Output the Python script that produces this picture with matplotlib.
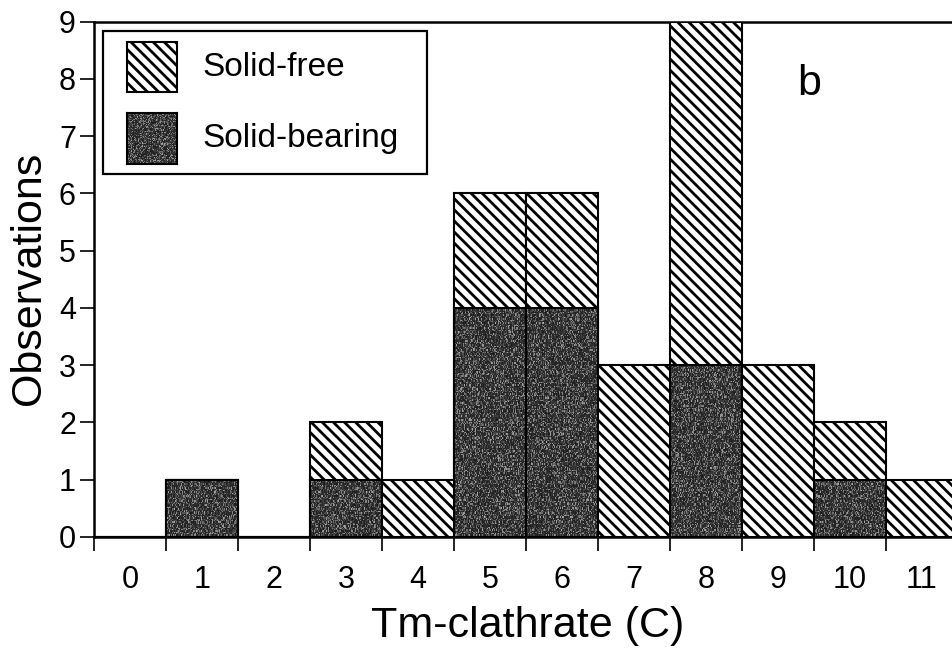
import numpy as np
import matplotlib
matplotlib.use("Agg")
import matplotlib.pyplot as plt
from matplotlib.patches import Rectangle

plt.rcParams['font.family'] = ['Liberation Sans', 'DejaVu Sans']
plt.rcParams['hatch.linewidth'] = 2.0
plt.rcParams['hatch.color'] = 'black'

# Tm-clathrate bins (C) and observation counts
categories = [0, 1, 2, 3, 4, 5, 6, 7, 8, 9, 10, 11]
solid_bearing = [0, 1, 0, 1, 0, 4, 4, 0, 3, 0, 1, 0]
solid_free = [0, 0, 0, 1, 1, 2, 2, 3, 6, 3, 1, 1]
y_ticks = [0, 1, 2, 3, 4, 5, 6, 7, 8, 9]

W, H = 953, 651
fig = plt.figure(figsize=(W / 100, H / 100), dpi=100)

def fx(px):
    return px / W

def fy(py):
    return 1 - py / H

ax = fig.add_axes([fx(94), 114 / H, 864 / W, 515.5 / H])
ax.set_xlim(-0.5, 11.5)
ax.set_ylim(0, 9)

edge_lw = 1.5
free_style = dict(facecolor='white', edgecolor='black', hatch='\\\\\\', linewidth=edge_lw)
bearing_style = dict(facecolor='#333333', edgecolor='black', linewidth=edge_lw)

# grainy dark fill for the solid-bearing bars
rng = np.random.default_rng(7)
grain = rng.random((400, 900))
grain = 0.10 + 0.50 * grain ** 3 + 0.08 * rng.random((400, 900))

x = np.array(categories, dtype=float)
bb = ax.bar(x, solid_bearing, width=1.0, zorder=2, **bearing_style)
for rect, v in zip(bb, solid_bearing):
    if v > 0:
        im = ax.imshow(grain, cmap='gray', vmin=0, vmax=1, extent=(-0.5, 11.5, 0, 9),
                       aspect='auto', interpolation='nearest', zorder=2.5)
        im.set_clip_path(rect)
        outline = Rectangle(rect.get_xy(), rect.get_width(), rect.get_height(),
                            fill=False, edgecolor='black', linewidth=edge_lw, zorder=3)
        ax.add_patch(outline)
ax.bar(x, solid_free, width=1.0, bottom=solid_bearing, zorder=3, **free_style)

# axes styling
for side in ['left', 'bottom', 'top']:
    ax.spines[side].set_linewidth(1.8)
ax.spines['right'].set_visible(False)
ax.set_xticks(x)
ax.set_xticklabels([str(c) for c in categories])
ax.set_xticks(np.arange(-0.5, 11.6, 1.0), minor=True)
ax.tick_params(axis='x', which='major', length=0, pad=20, labelsize=22)
ax.tick_params(axis='x', which='minor', length=10, width=1.2, direction='out')
ax.set_yticks(y_ticks)
ax.tick_params(axis='y', which='major', length=10, width=1.2, pad=3, labelsize=22)

fig.text(fx(528), fy(626), 'Tm-clathrate (C)', fontsize=31, ha='center', va='center')
fig.text(fx(29), fy(278), 'Observations', fontsize=31, ha='center', va='center', rotation=90)
fig.text(fx(809), fy(84), 'b', fontsize=31, ha='center', va='center')

# legend box
legend_box = Rectangle((fx(103), fy(174)), fx(427) - fx(103), fy(31) - fy(174),
                       transform=fig.transFigure, facecolor='white', edgecolor='black',
                       linewidth=1.6, zorder=5)
fig.patches.append(legend_box)
h_free = Rectangle((fx(127), fy(92)), fx(177) - fx(127), fy(42) - fy(92),
                   transform=fig.transFigure, zorder=6, **free_style)
fig.patches.append(h_free)

# solid-bearing legend swatch with the same grainy fill
sw = fig.add_axes([fx(127), fy(164), fx(177) - fx(127), fy(113) - fy(164)], zorder=8)
sw.imshow(grain[:60, :60], cmap='gray', vmin=0, vmax=1, aspect='auto', interpolation='nearest')
sw.set_xticks([])
sw.set_yticks([])
for s in sw.spines.values():
    s.set_linewidth(edge_lw)

fig.text(fx(202), fy(68), 'Solid-free', fontsize=24, ha='left', va='center', zorder=7)
fig.text(fx(202), fy(138), 'Solid-bearing', fontsize=24, ha='left', va='center', zorder=7)

fig.savefig('out.png', dpi=100)
